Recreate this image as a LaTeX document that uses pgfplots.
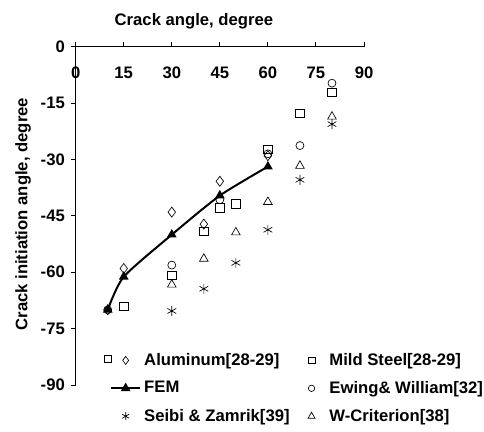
\documentclass[border=0pt]{standalone}
\usepackage{fontspec}
\setmainfont{Liberation Sans}[BoldFont={Liberation Sans Bold}]
\usepackage{pgfplots}
\pgfplotsset{compat=1.18}
\pgfplotsset{
  markleg/.style={legend image code/.code={%
    \path (0cm,0cm) (0.6cm,0cm);
    \draw[mark repeat=2,mark phase=2,##1,/tikz/every mark/.append style={scale=0.8}] plot coordinates {(0cm,0cm) (0.3cm,0cm) (0.6cm,0cm)};}},
  strayleg/.style={legend image code/.code={%
    \draw[overlay, black, line width=0.4pt, mark=square, mark size=2pt] plot coordinates {(-0.08cm,0.04cm)};
    \path (0cm,0cm) (0.6cm,0cm);
    \draw[mark repeat=2,mark phase=2,##1,/tikz/every mark/.append style={scale=0.8}] plot coordinates {(0cm,0cm) (0.3cm,0cm) (0.6cm,0cm)};}}}
\begin{document}
\begin{tikzpicture}[font=\bfseries\fontsize{10}{12}\selectfont]
\useasboundingbox (-45.42pt,28.02pt) rectangle (244.98pt,-231.18pt);
\begin{axis}[
  at={(0,0)}, anchor=north west,
  scale only axis, width=173pt, height=203pt,
  xmin=0, xmax=90, ymin=-90, ymax=0,
  axis x line=top, axis y line=left,
  axis line style={-, black, line width=0.6pt},
  xtick={0,15,...,90}, ytick={-90,-75,...,0},
  xticklabels={0,15,30,45,60,75,90},
  yticklabels={-90,-75,-60,-45,-30,-15,0},
  tick align=outside, major tick length=3pt,
  tick style={black, line width=0.6pt},
  tick label style={font=\bfseries\fontsize{10}{12}\selectfont},
  xticklabel style={yshift=-26pt},
  clip=false,
  xlabel={Crack angle, degree},
  ylabel={Crack initiation angle, degree},
  label style={font=\bfseries\fontsize{10}{12}\selectfont},
  xlabel style={at={(rel axis cs:0.41,1)}, anchor=center, yshift=15.4pt},
  ylabel style={at={(rel axis cs:0,0.505)}, anchor=center, yshift=31.6pt},
  legend columns=2,
  legend cell align=left,
  legend style={draw=none, fill=none, at={(rel axis cs:0.102,0.115)}, anchor=north west,
    row sep=4pt, font=\bfseries\fontsize{10}{12}\selectfont,
    /tikz/every even column/.append style={column sep=2.4pt}},
]
\addplot[only marks, black, mark=diamond, mark size=3pt, mark options={fill=white}, strayleg]
  coordinates {(10,-70) (15,-59) (30,-44) (40,-47.2) (45,-35.8) (60,-29)};
\addlegendentry{Aluminum[28-29]}
\addplot[only marks, black, mark=square, mark size=2.5pt, markleg]
  coordinates {(15,-69) (30,-60.8) (40,-49.1) (45,-42.9) (50,-41.8) (60,-27.3) (70,-17.7) (80,-12.2)};
\addlegendentry{Mild Steel[28-29]}
\addplot[black, line width=1.2pt, smooth, tension=0.4, mark=triangle*, mark size=2.2pt, mark options={solid}]
  coordinates {(10,-70) (15,-61.2) (30,-50) (45,-39.6) (60,-31.9)};
\addlegendentry{FEM}
\addplot[only marks, black, mark=o, mark size=2.4pt, markleg]
  coordinates {(10,-70) (30,-58.1) (45,-40.7) (60,-28.5) (70,-26.3) (80,-9.7)};
\addlegendentry{Ewing\& William[32]}
\addplot[only marks, black, mark=asterisk, mark size=3pt, markleg]
  coordinates {(30,-70.3) (40,-64.4) (50,-57.5) (60,-48.7) (70,-35.4) (80,-20.6)};
\addlegendentry{Seibi \& Zamrik[39]}
\addplot[only marks, black, mark=triangle, mark size=3pt, markleg]
  coordinates {(30,-63.3) (40,-56.4) (50,-49.4) (60,-41.3) (70,-31.7) (80,-18.6)};
\addlegendentry{W-Criterion[38]}
\end{axis}
\end{tikzpicture}
\end{document}
